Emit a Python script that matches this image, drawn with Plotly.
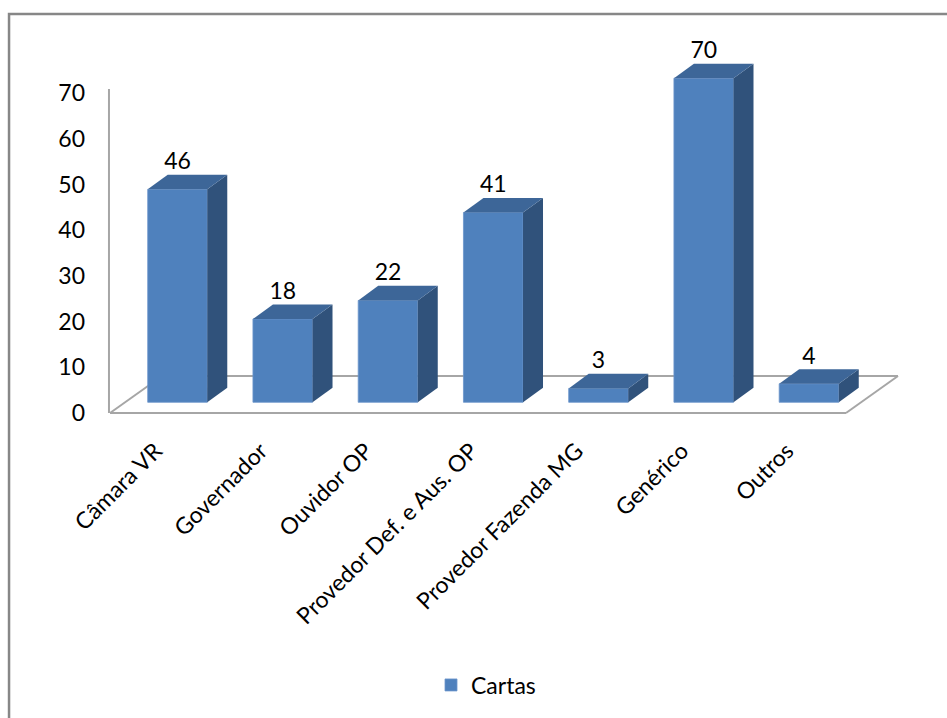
import plotly.graph_objects as go

# Letters per addressee
categories = ["Câmara VR", "Governador", "Ouvidor OP", "Provedor Def. e Aus. OP",
              "Provedor Fazenda MG", "Genérico", "Outros"]
values = [46, 18, 22, 41, 3, 70, 4]
series_name = "Cartas"
y_ticks = [0, 10, 20, 30, 40, 50, 60, 70]

# Colours of the three visible faces of each column
FRONT = "#4F81BD"
TOP = "#3D6698"
SIDE = "#30527B"
EDGE = "#6C95CB"
FLOOR = "#A6A6A6"
FONT = "Lato"
FS = 23

# Column geometry in axis units (bar width, depth offset)
BAR_W = 0.566
DEPTH_X = 0.19
DEPTH_Y = 3.15
LABEL_GAP = 5.6

fig = go.Figure()

# Front faces of the columns
fig.add_trace(go.Bar(
    x=list(range(len(categories))), y=values, width=BAR_W,
    marker=dict(color=FRONT, line=dict(color=EDGE, width=0.8)),
    name=series_name, yaxis="y2", hoverinfo="skip", showlegend=True,
))

# Right-hand side and top faces, built from each value
for i, v in enumerate(values):
    xr = i + BAR_W / 2
    xl = i - BAR_W / 2
    fig.add_trace(go.Scatter(
        x=[xr, xr + DEPTH_X, xr + DEPTH_X, xr, xr],
        y=[0, DEPTH_Y, v + DEPTH_Y, v, 0],
        fill="toself", fillcolor=SIDE, mode="lines", line=dict(width=0, color=SIDE),
        yaxis="y2", showlegend=False, hoverinfo="skip",
    ))
    fig.add_trace(go.Scatter(
        x=[xl, xr, xr + DEPTH_X, xl + DEPTH_X, xl],
        y=[v, v, v + DEPTH_Y, v + DEPTH_Y, v],
        fill="toself", fillcolor=TOP, mode="lines", line=dict(width=0, color=TOP),
        yaxis="y2", showlegend=False, hoverinfo="skip",
    ))

# Value labels above each column
fig.add_trace(go.Scatter(
    x=list(range(len(categories))), y=[v + LABEL_GAP for v in values],
    text=[str(v) for v in values], mode="text", textposition="middle center",
    textfont=dict(family=FONT, size=FS, color="#000000"),
    yaxis="y2", showlegend=False, hoverinfo="skip", cliponaxis=False,
))

# Floor of the 3-D plot area and the vertical axis line
floor_back = 8.09
shapes = [
    dict(type="line", xref="x", yref="y", x0=-0.641, y0=0, x1=6.352, y1=0),
    dict(type="line", xref="x", yref="y", x0=-0.147, y0=floor_back, x1=6.846, y1=floor_back),
    dict(type="line", xref="x", yref="y", x0=-0.641, y0=0, x1=-0.147, y1=floor_back),
    dict(type="line", xref="x", yref="y", x0=6.352, y0=0, x1=6.846, y1=floor_back),
    dict(type="line", xref="x", yref="y", x0=-0.651, y0=0, x1=-0.651, y1=y_ticks[-1] + 0.9),
]
for s in shapes:
    s.update(layer="below", line=dict(color=FLOOR, width=2))

# Outer chart frame
shapes.append(dict(type="rect", xref="paper", yref="paper",
                   x0=-0.1123, x1=1.07, y0=-0.77, y1=1.0,
                   line=dict(color="#878787", width=2.5), fillcolor="rgba(0,0,0,0)",
                   layer="above"))

fig.update_layout(
    width=947, height=718,
    margin=dict(l=100, r=37, t=14, b=298),
    paper_bgcolor="white", plot_bgcolor="white",
    font=dict(family=FONT, size=FS, color="#000000"),
    shapes=shapes,
    barmode="overlay",
    xaxis=dict(
        range=[-0.7363, 6.96], tickmode="array",
        tickvals=list(range(len(categories))), ticktext=categories,
        tickangle=-45, showgrid=False, zeroline=False, showline=False,
        ticks="", ticklabelshift=-22, ticklabelstandoff=12,
        tickfont=dict(family=FONT, size=FS, color="#000000"),
    ),
    yaxis=dict(
        range=[-1.531, 87.29], tickmode="array", tickvals=y_ticks,
        showgrid=False, zeroline=False, showline=False, ticks="",
        ticklabelstandoff=14,
        tickfont=dict(family=FONT, size=FS, color="#000000"),
    ),
    yaxis2=dict(range=[-3.823, 83.87], overlaying="y", visible=False),
    legend=dict(
        orientation="h", x=(431 - 100) / 810, xanchor="left",
        y=(420 - 685) / 406, yanchor="middle",
        font=dict(family=FONT, size=FS, color="#000000"),
        bgcolor="rgba(0,0,0,0)",
    ),
    showlegend=True,
)

fig.write_html("out.html")
